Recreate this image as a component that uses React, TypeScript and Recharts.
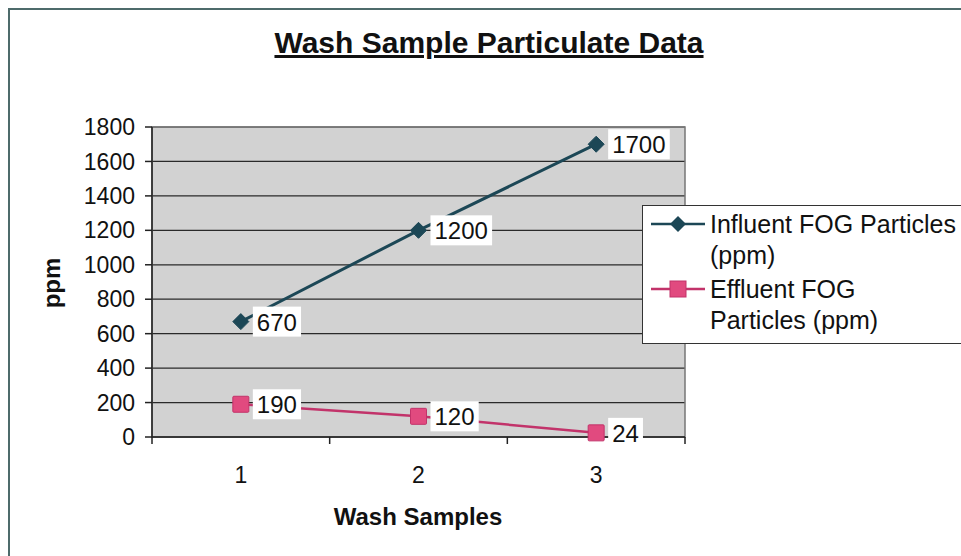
import { CartesianGrid, Legend, LabelList, Line, LineChart, ReferenceArea, XAxis, YAxis } from "recharts";

const samples = [1, 2, 3];
const influent = [670, 1200, 1700];
const effluent = [190, 120, 24];
const yTicks = [0, 200, 400, 600, 800, 1000, 1200, 1400, 1600, 1800];

const data = samples.map((s, i) => ({ sample: s, influent: influent[i], effluent: effluent[i] }));

const FONT = "'Liberation Sans', Arial, sans-serif";
const INF_COLOR = "#1c4756";
const EFF_LINE = "#c2336a";
const EFF_FILL = "#e14a7f";

// plot area: x 152..685, y 127..437
const PLOT_LEFT = 152;
const PLOT_RIGHT = 685;
const HALF_BAND = (PLOT_RIGHT - PLOT_LEFT) / samples.length / 2;

function CatTick(props: any) {
  const { x, y, payload, index } = props;
  return (
    <g>
      <line x1={x - HALF_BAND} y1={y} x2={x - HALF_BAND} y2={y + 7} stroke="#222" strokeWidth={1.5} />
      {index === samples.length - 1 && (
        <line x1={x + HALF_BAND} y1={y} x2={x + HALF_BAND} y2={y + 7} stroke="#222" strokeWidth={1.5} />
      )}
      <text x={x} y={y + 46} textAnchor="middle" fontSize={23} fill="#111" fontFamily={FONT}>
        {payload.value}
      </text>
    </g>
  );
}

function Diamond(props: any) {
  const { cx, cy } = props;
  if (cx == null || cy == null) return null;
  const r = 8;
  return <polygon points={`${cx},${cy - r} ${cx + r},${cy} ${cx},${cy + r} ${cx - r},${cy}`} fill={INF_COLOR} stroke={INF_COLOR} />;
}

function Square(props: any) {
  const { cx, cy } = props;
  if (cx == null || cy == null) return null;
  return <rect x={cx - 8} y={cy - 8} width={16} height={16} fill={EFF_FILL} stroke={EFF_LINE} strokeWidth={1} rx={1} />;
}

function BoxLabel(props: any) {
  const { x, y, value } = props;
  const txt = String(value);
  const w = txt.length * 13.4 + 8;
  return (
    <g>
      <rect x={x + 12} y={y - 15} width={w} height={30} fill="#fff" />
      <text x={x + 16} y={y + 9} fontSize={24} fill="#111" fontFamily={FONT}>
        {txt}
      </text>
    </g>
  );
}

function LegendBox() {
  const row = { display: "flex", alignItems: "flex-start" } as const;
  const sym = (color: string, marker: any) => (
    <svg width={58} height={30} style={{ flex: "none" }}>
      <line x1={2} y1={15} x2={56} y2={15} stroke={color} strokeWidth={2.5} />
      {marker}
    </svg>
  );
  return (
    <div
      style={{
        border: "1.5px solid #333",
        background: "#fff",
        padding: "3px 0 7px 6px",
        fontFamily: FONT,
        fontSize: 25,
        lineHeight: "31px",
        color: "#111",
        width: 340,
        boxSizing: "border-box",
        whiteSpace: "nowrap",
      }}
    >
      <div style={row}>
        {sym(INF_COLOR, <polygon points="29,7 37,15 29,23 21,15" fill={INF_COLOR} />)}
        <div style={{ marginLeft: 3 }}>Influent FOG Particles<br />(ppm)</div>
      </div>
      <div style={{ ...row, marginTop: 3 }}>
        {sym(EFF_LINE, <rect x={21} y={7} width={16} height={16} fill={EFF_FILL} stroke={EFF_LINE} />)}
        <div style={{ marginLeft: 3 }}>Effluent FOG<br />Particles (ppm)</div>
      </div>
    </div>
  );
}

export default function App() {
  return (
    <div style={{ position: "absolute", left: 0, top: 0, width: 961, height: 556, background: "#fff", overflow: "hidden", fontFamily: FONT }}>
      <div style={{ position: "absolute", left: 8, top: 8, width: 960, height: 560, borderLeft: "2px solid #4d6b6b", borderTop: "2px solid #4d6b6b" }} />
      <div style={{ position: "absolute", left: 0, top: 26, width: 978, textAlign: "center", fontSize: 30, fontWeight: "bold", textDecoration: "underline", color: "#111" }}>
        Wash Sample Particulate Data
      </div>
      <div style={{ position: "absolute", left: 52, top: 283, transform: "translate(-50%, -50%) rotate(-90deg)", fontSize: 24, fontWeight: "bold", color: "#111" }}>
        ppm
      </div>
      <div style={{ position: "absolute", left: 418, top: 517, transform: "translate(-50%, -50%)", fontSize: 24, fontWeight: "bold", color: "#111", whiteSpace: "nowrap" }}>
        Wash Samples
      </div>
      <div style={{ position: "absolute", left: 0, top: 0 }}>
        <LineChart width={961} height={556} data={data} margin={{ top: 127, right: 961 - PLOT_RIGHT, bottom: 69, left: 0 }}>
          <CartesianGrid vertical={false} fill="#d2d2d2" stroke="#2a2a2a" strokeWidth={1.2} />
          <ReferenceArea x1={0.5} x2={3.5} y1={0} y2={1800} fill="none" stroke="#777" strokeWidth={1.5} ifOverflow="visible" />
          <XAxis
            dataKey="sample"
            type="number"
            domain={[0.5, 3.5]}
            ticks={samples}
            tickLine={false}
            tickSize={0}
            tickMargin={0}
            height={50}
            axisLine={{ stroke: "#222", strokeWidth: 1.5 }}
            tick={<CatTick />}
            interval={0}
          />
          <YAxis
            domain={[0, 1800]}
            ticks={yTicks}
            width={PLOT_LEFT}
            tickSize={7}
            tickMargin={10}
            interval={0}
            axisLine={{ stroke: "#222", strokeWidth: 1.5 }}
            tickLine={{ stroke: "#222", strokeWidth: 1.5 }}
            tick={{ fontSize: 23, fill: "#111", fontFamily: FONT }}
          />
          <Legend
            layout="vertical"
            align="center"
            verticalAlign="middle"
            wrapperStyle={{ left: 642, top: 205, width: 340 }}
            content={<LegendBox />}
          />
          <Line dataKey="influent" name="Influent FOG Particles (ppm)" stroke={INF_COLOR} strokeWidth={3} dot={<Diamond />} isAnimationActive={false}>
            <LabelList dataKey="influent" content={<BoxLabel />} />
          </Line>
          <Line dataKey="effluent" name="Effluent FOG Particles (ppm)" stroke={EFF_LINE} strokeWidth={2.5} dot={<Square />} isAnimationActive={false}>
            <LabelList dataKey="effluent" content={<BoxLabel />} />
          </Line>
        </LineChart>
      </div>
    </div>
  );
}
